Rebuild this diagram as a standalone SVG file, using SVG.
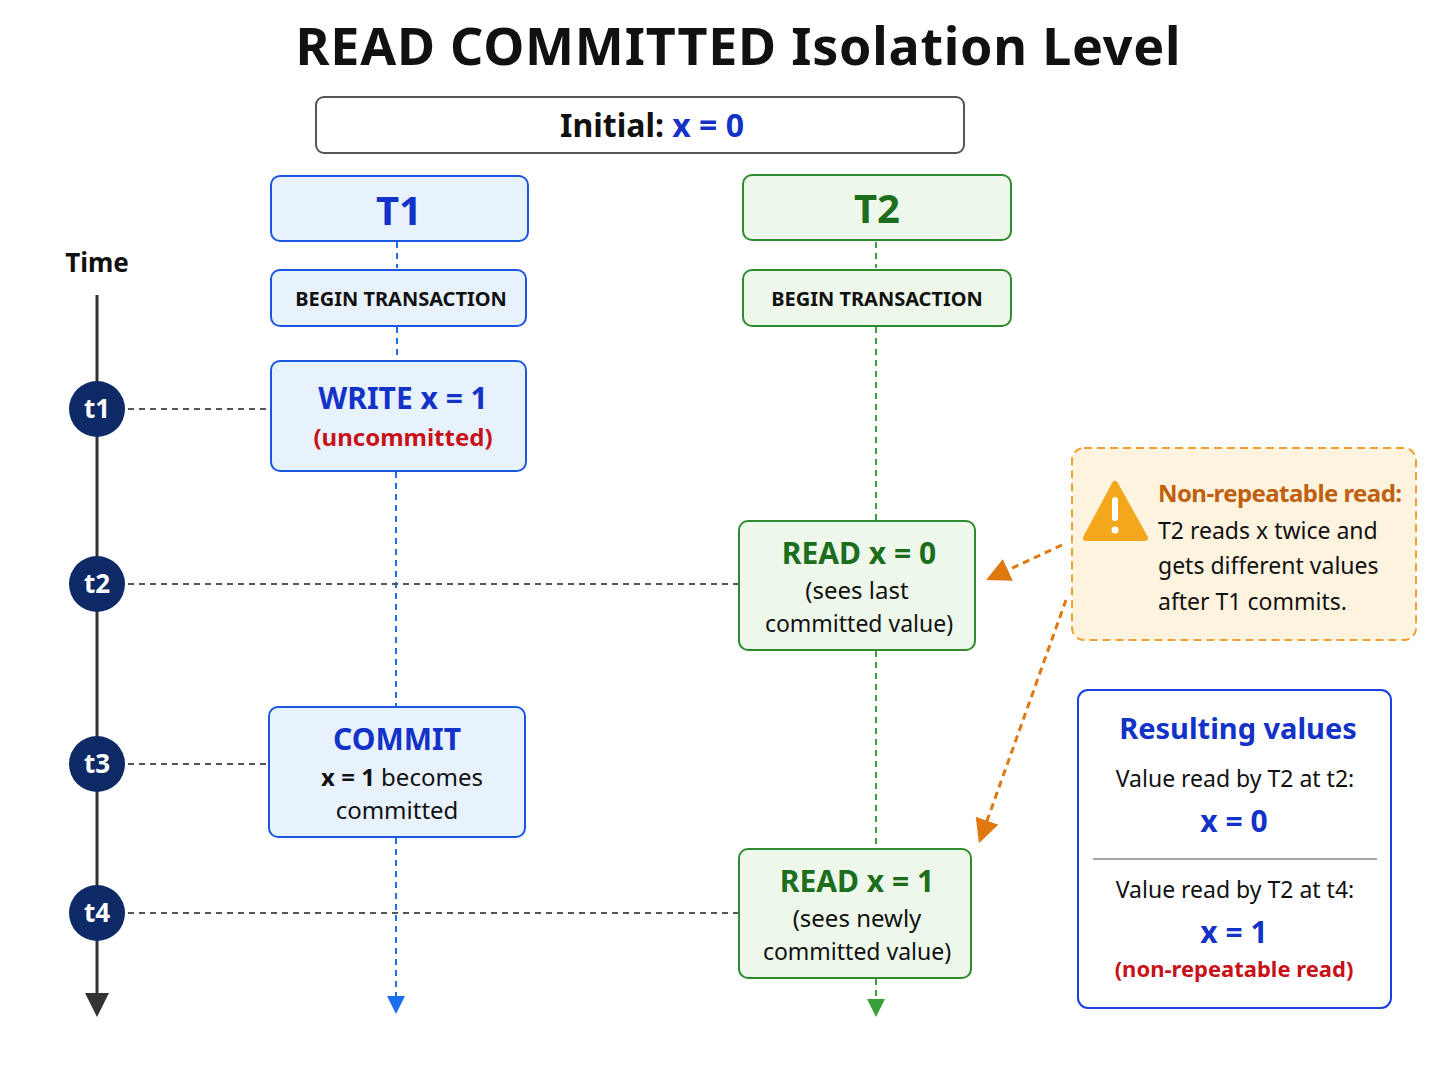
<svg xmlns="http://www.w3.org/2000/svg" width="1448" height="1086" viewBox="0 0 1448 1086">
<defs>
<style>
text{font-family:"Noto Sans","Liberation Sans",sans-serif;text-anchor:middle}
.b1{fill:#e8f2fd;stroke:#1a56e0;stroke-width:2}
.b2{fill:#edf7ea;stroke:#2e8b2e;stroke-width:2}
.blue{fill:#1232c8;font-weight:bold}
.green{fill:#1c6e1c;font-weight:bold}
.red{fill:#c8121a;font-weight:bold}
.tc{fill:#0d2a66}
.tl{fill:#fff;font-weight:bold;font-size:26px}
.hd{stroke:#555;stroke-width:2;stroke-dasharray:6 5}
</style>
<marker id="ab" viewBox="0 0 10 10" refX="5" refY="5" markerWidth="9" markerHeight="9" orient="auto"><path d="M0,0L10,5L0,10z" fill="#1a6ef0"/></marker>
<marker id="ag" viewBox="0 0 10 10" refX="5" refY="5" markerWidth="9" markerHeight="9" orient="auto"><path d="M0,0L10,5L0,10z" fill="#3aa03a"/></marker>
<marker id="ak" viewBox="0 0 10 10" refX="5" refY="5" markerWidth="8" markerHeight="8" orient="auto"><path d="M0,0L10,5L0,10z" fill="#333"/></marker>
<marker id="ao" viewBox="0 0 10 10" refX="5" refY="5" markerWidth="8" markerHeight="8" orient="auto"><path d="M0,0L10,5L0,10z" fill="#e07810"/></marker>
</defs>
<rect width="1448" height="1086" fill="#fff"/>
<text x="738" y="65" font-size="52" font-weight="bold" fill="#111" textLength="885">READ COMMITTED Isolation Level</text>
<g id="initial"><rect x="316" y="97" width="648" height="56" rx="8" fill="#fff" stroke="#555" stroke-width="2"/>
<text x="652" y="137" font-size="32" font-weight="bold"><tspan fill="#111">Initial: </tspan><tspan fill="#1232c8">x = 0</tspan></text></g>
<g id="connectors">
<line x1="97" y1="295" x2="97" y2="1005" stroke="#333" stroke-width="3" marker-end="url(#ak)"/>
<line x1="397" y1="242" x2="397" y2="268" stroke="#1a6ef0" stroke-width="2" stroke-dasharray="6 5"/>
<line x1="397" y1="327" x2="397" y2="360" stroke="#1a6ef0" stroke-width="2" stroke-dasharray="6 5"/>
<line x1="396" y1="472" x2="396" y2="706" stroke="#1a6ef0" stroke-width="2" stroke-dasharray="6 5"/>
<line x1="396" y1="838" x2="396" y2="1005" stroke="#1a6ef0" stroke-width="2" stroke-dasharray="6 5" marker-end="url(#ab)"/>
<line x1="876" y1="242" x2="876" y2="268" stroke="#3aa03a" stroke-width="2" stroke-dasharray="6 5"/>
<line x1="876" y1="327" x2="876" y2="520" stroke="#3aa03a" stroke-width="2" stroke-dasharray="6 5"/>
<line x1="876" y1="651" x2="876" y2="848" stroke="#3aa03a" stroke-width="2" stroke-dasharray="6 5"/>
<line x1="876" y1="979" x2="876" y2="1008" stroke="#3aa03a" stroke-width="2" stroke-dasharray="6 5" marker-end="url(#ag)"/>
<line class="hd" x1="128" y1="409" x2="268" y2="409"/>
<line class="hd" x1="128" y1="584" x2="738" y2="584"/>
<line class="hd" x1="128" y1="764" x2="267" y2="764"/>
<line class="hd" x1="128" y1="913" x2="738" y2="913"/>
<line x1="1062" y1="545" x2="997" y2="575" stroke="#e07810" stroke-width="3" stroke-dasharray="7 5" marker-end="url(#ao)"/>
<line x1="1066" y1="600" x2="983" y2="832" stroke="#e07810" stroke-width="3" stroke-dasharray="7 5" marker-end="url(#ao)"/>
</g>
<g id="time"><text x="97" y="272" font-size="26" font-weight="bold" fill="#111">Time</text>
<circle cx="97" cy="409" r="28" class="tc"/><text x="97" y="418" class="tl">t1</text>
<circle cx="97" cy="584" r="28" class="tc"/><text x="97" y="593" class="tl">t2</text>
<circle cx="97" cy="764" r="28" class="tc"/><text x="97" y="773" class="tl">t3</text>
<circle cx="97" cy="913" r="28" class="tc"/><text x="97" y="922" class="tl">t4</text></g>
<g id="t1"><rect x="271" y="176" width="257" height="65" rx="9" class="b1"/><text x="399" y="225" font-size="40" class="blue">T1</text></g>
<g id="t1begin"><rect x="271" y="270" width="255" height="56" rx="9" class="b1"/><text x="401" y="306" font-size="20" font-weight="bold" fill="#111">BEGIN TRANSACTION</text></g>
<g id="write"><rect x="271" y="361" width="255" height="110" rx="9" class="b1"/><text x="403" y="409" font-size="30" class="blue">WRITE x = 1</text><text x="403" y="446" font-size="24" class="red">(uncommitted)</text></g>
<g id="commit"><rect x="269" y="707" width="256" height="130" rx="9" class="b1"/><text x="397" y="750" font-size="30" class="blue">COMMIT</text><text x="402" y="786" font-size="24" fill="#111"><tspan font-weight="bold">x = 1</tspan> becomes</text><text x="397" y="819" font-size="24" fill="#111">committed</text></g>
<g id="t2"><rect x="743" y="175" width="268" height="65" rx="9" class="b2"/><text x="877" y="223" font-size="40" class="green">T2</text></g>
<g id="t2begin"><rect x="743" y="270" width="268" height="56" rx="9" class="b2"/><text x="877" y="306" font-size="20" font-weight="bold" fill="#111">BEGIN TRANSACTION</text></g>
<g id="read0"><rect x="739" y="521" width="236" height="129" rx="9" class="b2"/><text x="859" y="564" font-size="30" class="green">READ x = 0</text><text x="857" y="599" font-size="24" fill="#111">(sees last</text><text x="859" y="632" font-size="23" fill="#111">committed value)</text></g>
<g id="read1"><rect x="739" y="849" width="232" height="129" rx="9" class="b2"/><text x="857" y="892" font-size="30" class="green">READ x = 1</text><text x="857" y="927" font-size="24" fill="#111">(sees newly</text><text x="857" y="960" font-size="23" fill="#111">committed value)</text></g>
<g id="note"><rect x="1072" y="448" width="344" height="192" rx="12" fill="#fdf3df" stroke="#f0a030" stroke-width="2" stroke-dasharray="8 5"/>
<path d="M1115,484 L1145,538 L1086,538 Z" fill="#f2a81a" stroke="#f2a81a" stroke-width="6" stroke-linejoin="round"/>
<rect x="1112" y="497" width="6" height="24" rx="3" fill="#fff"/><circle cx="1115" cy="530" r="3.5" fill="#fff"/>
<text x="1158" y="502" font-size="24" font-weight="bold" fill="#c0600e" style="text-anchor:start" textLength="244">Non-repeatable read:</text>
<text x="1158" y="539" font-size="23" fill="#111" style="text-anchor:start">T2 reads x twice and</text>
<text x="1158" y="574" font-size="23" fill="#111" style="text-anchor:start">gets different values</text>
<text x="1158" y="610" font-size="23" fill="#111" style="text-anchor:start">after T1 commits.</text></g>
<g id="result"><rect x="1078" y="690" width="313" height="318" rx="10" fill="#fff" stroke="#1a40e0" stroke-width="2"/>
<text x="1238" y="739" font-size="29" class="blue">Resulting values</text>
<text x="1235" y="787" font-size="23" fill="#111">Value read by T2 at t2:</text>
<text x="1234" y="832" font-size="30" class="blue">x = 0</text>
<line x1="1093" y1="859" x2="1377" y2="859" stroke="#888" stroke-width="1.5"/>
<text x="1235" y="898" font-size="23" fill="#111">Value read by T2 at t4:</text>
<text x="1234" y="943" font-size="30" class="blue">x = 1</text>
<text x="1234" y="977" font-size="22" class="red">(non-repeatable read)</text></g>
</svg>
